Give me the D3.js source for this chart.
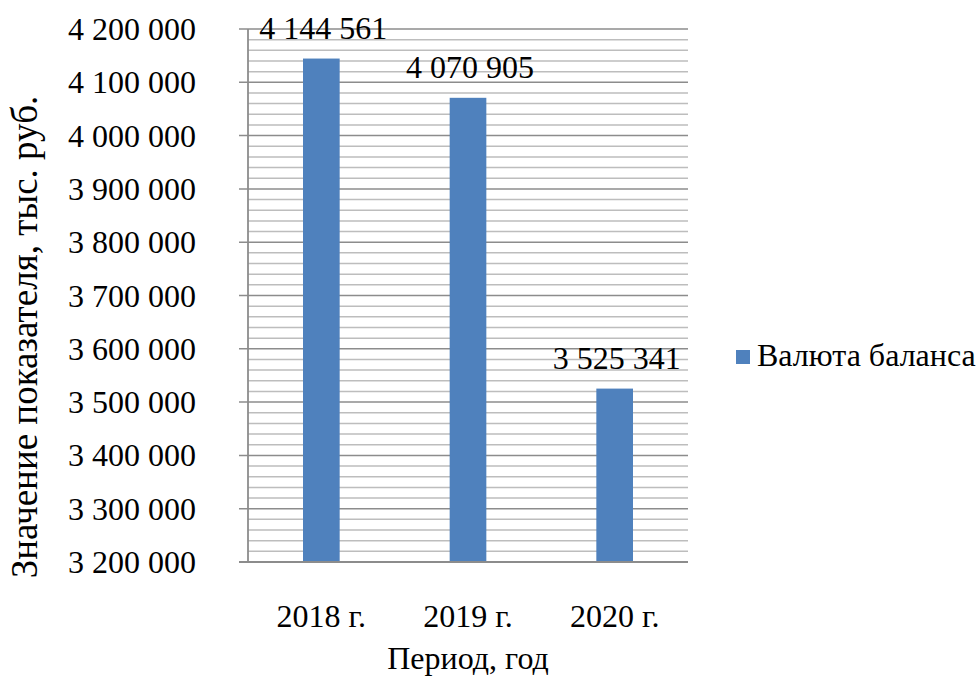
<!DOCTYPE html>
<html><head><meta charset="utf-8">
<script src="https://cdn.jsdelivr.net/npm/d3@7"></script>
<style>
html,body{margin:0;padding:0;background:#fff;}
text{font-family:"Liberation Serif","Times New Roman",serif;fill:#000;}
</style></head>
<body>
<svg id="chart" width="976" height="679"></svg>
<script>
const categories = ["2018 г.", "2019 г.", "2020 г."];
const values = [4144561, 4070905, 3525341];
const seriesName = "Валюта баланса";
const yMin = 3200000, yMax = 4200000;
const majorStep = 100000, minorStep = 20000;
const yTitle = "Значение показателя, тыс. руб.";
const xTitle = "Период, год";

const svg = d3.select("#chart");
const plot = {left: 248, right: 688, top: 29, bottom: 562};
const fs = 32;
const loc = d3.formatLocale({decimal: ",", thousands: "\u00a0", grouping: [3], currency: ["", ""]});
const fmt = loc.format(",d");

const x = d3.scaleBand().domain(categories).range([plot.left, plot.right]).paddingInner(0).paddingOuter(0);
const y = d3.scaleLinear().domain([yMin, yMax]).range([plot.bottom, plot.top]);

const minorTicks = d3.range(yMin, yMax + 1, minorStep).filter(v => v % majorStep !== 0);
const majorTicks = d3.range(yMin, yMax + 1, majorStep);

// minor gridlines
svg.append("g").selectAll("line").data(minorTicks).join("line")
  .attr("x1", plot.left).attr("x2", plot.right)
  .attr("y1", d => y(d)).attr("y2", d => y(d))
  .attr("stroke", "#bdbdbd").attr("stroke-width", 1.5);
// major gridlines
svg.append("g").selectAll("line").data(majorTicks).join("line")
  .attr("x1", plot.left - 9).attr("x2", plot.right)
  .attr("y1", d => y(d)).attr("y2", d => y(d))
  .attr("stroke", "#8c8c8c").attr("stroke-width", 1.5);

// y axis line
svg.append("line").attr("x1", plot.left).attr("x2", plot.left)
  .attr("y1", plot.top).attr("y2", plot.bottom)
  .attr("stroke", "#8c8c8c").attr("stroke-width", 1.8);

// bars
const barW = x.bandwidth() * 0.25;
svg.append("g").selectAll("rect").data(values).join("rect")
  .attr("x", (d, i) => x(categories[i]) + x.bandwidth() / 2 - barW / 2)
  .attr("width", barW)
  .attr("y", d => y(d))
  .attr("height", d => plot.bottom - y(d))
  .attr("fill", "#4F81BD");

// bottom axis line (drawn over bars)
svg.append("line").attr("x1", plot.left - 9).attr("x2", plot.right)
  .attr("y1", plot.bottom).attr("y2", plot.bottom)
  .attr("stroke", "#8c8c8c").attr("stroke-width", 1.8);

// y tick labels
svg.append("g").selectAll("text").data(majorTicks).join("text")
  .attr("x", 196).attr("y", d => y(d) + 11)
  .attr("text-anchor", "end").attr("font-size", fs)
  .text(d => fmt(d));

// x tick labels
svg.append("g").selectAll("text").data(categories).join("text")
  .attr("x", d => x(d) + x.bandwidth() / 2).attr("y", plot.bottom + 65)
  .attr("text-anchor", "middle").attr("font-size", fs)
  .text(d => d);

// value labels
svg.append("g").selectAll("text").data(values).join("text")
  .attr("x", (d, i) => x(categories[i]) + x.bandwidth() / 2 + 2)
  .attr("y", d => y(d) - 20)
  .attr("text-anchor", "middle").attr("font-size", fs)
  .text(d => fmt(d));

// axis titles
svg.append("text").attr("x", (plot.left + plot.right) / 2).attr("y", 669)
  .attr("text-anchor", "middle").attr("font-size", fs).text(xTitle);
svg.append("text").attr("transform", "translate(37,337) rotate(-90)")
  .attr("text-anchor", "middle").attr("font-size", 37).text(yTitle);

// legend
const lg = svg.append("g");
lg.append("rect").attr("x", 736).attr("y", 350).attr("width", 14).attr("height", 14).attr("fill", "#4F81BD");
lg.append("text").attr("x", 757).attr("y", 366).attr("font-size", fs).text(seriesName);
</script>
</body></html>
